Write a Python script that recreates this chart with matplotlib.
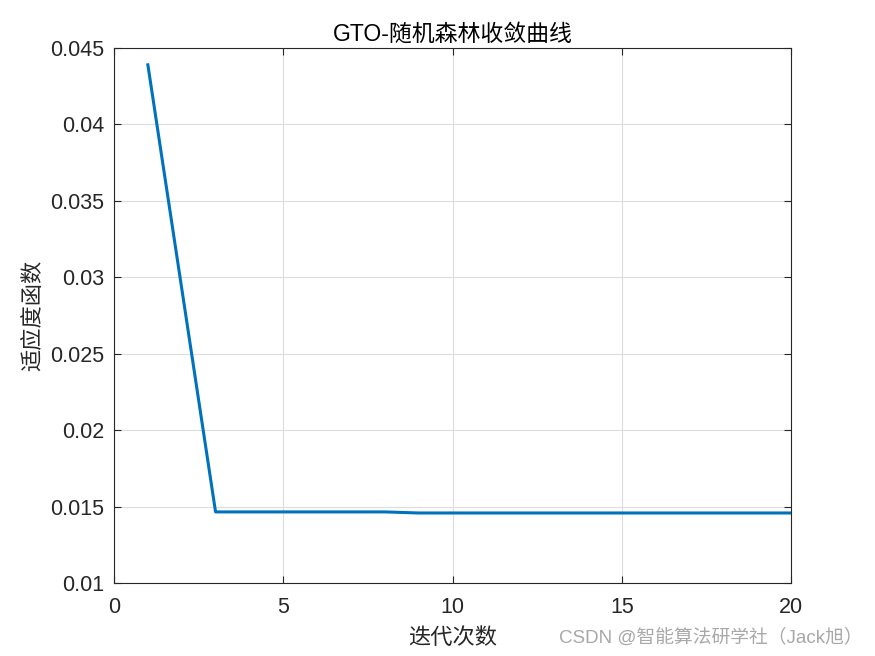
import numpy as np
import matplotlib
matplotlib.use("Agg")
import matplotlib.pyplot as plt
from matplotlib.ticker import FormatStrFormatter

plt.rcParams['font.family'] = ['Liberation Sans', 'Noto Sans CJK SC', 'DejaVu Sans']

# convergence curve
iters = np.arange(1, 21)
fitness = [0.0439, 0.02928, 0.01465, 0.01465, 0.01465, 0.01465, 0.01465, 0.01465,
           0.01458, 0.01458, 0.01458, 0.01458, 0.01458, 0.01458, 0.01458, 0.01458,
           0.01458, 0.01458, 0.01458, 0.01458]

xticks = [0, 5, 10, 15, 20]
yticks = [0.01, 0.015, 0.02, 0.025, 0.03, 0.035, 0.04, 0.045]

fig = plt.figure(figsize=(8.75, 6.56), dpi=100)
ax = fig.add_axes([0.1303, 0.1113, 0.7737, 0.8155])

ax.plot(iters, fitness, color='#0072BD', lw=2.2)

ax.set_xlim(0, 20)
ax.set_ylim(0.01, 0.045)
ax.set_xticks(xticks)
ax.set_yticks(yticks)
ax.yaxis.set_major_formatter(FormatStrFormatter('%g'))
ax.tick_params(direction='in', top=True, right=True, labelsize=15.5,
               length=5, width=0.8, colors='#262626')
ax.tick_params(axis='x', pad=10)
ax.tick_params(axis='y', pad=7)
ax.grid(True, color='#dcdcdc', lw=0.8)
for s in ax.spines.values():
    s.set_color('#262626')
    s.set_linewidth(0.8)

cjk = ['Noto Sans CJK SC', 'DejaVu Sans']
ax.set_title('GTO-随机森林收敛曲线', fontsize=16.5, color='black', pad=5,
             family=['Liberation Sans', 'Noto Sans CJK SC'])
ax.set_xlabel('迭代次数', fontsize=16, family=cjk, color='#262626', labelpad=6)
ax.set_ylabel('适应度函数', fontsize=16, family=cjk, color='#262626', labelpad=4)

fig.text(0.986, 0.028, 'CSDN @智能算法研学社（Jack旭）', ha='right', va='center',
         fontsize=13.5, color='#a8a8a8', family=['Liberation Sans', 'Noto Sans CJK SC'])

plt.savefig("out.png", dpi=100)
